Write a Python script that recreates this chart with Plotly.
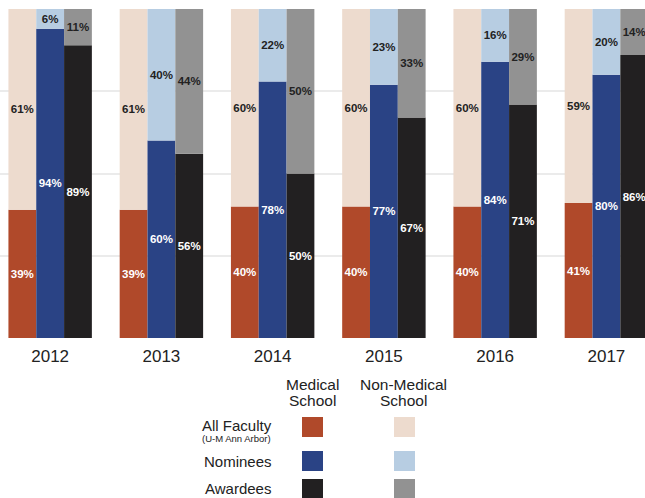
import plotly.graph_objects as go

years = ["2012", "2013", "2014", "2015", "2016", "2017"]
groups = ["All Faculty", "Nominees", "Awardees"]
medical = {
    "All Faculty": [39, 39, 40, 40, 40, 41],
    "Nominees": [94, 60, 78, 77, 84, 80],
    "Awardees": [89, 56, 50, 67, 71, 86],
}
non_medical = {
    "All Faculty": [61, 61, 60, 60, 60, 59],
    "Nominees": [6, 40, 22, 23, 16, 20],
    "Awardees": [11, 44, 50, 33, 29, 14],
}
med_colors = {"All Faculty": "#B0492A", "Nominees": "#2A4385", "Awardees": "#222021"}
non_colors = {"All Faculty": "#EDDBCE", "Nominees": "#B7CDE2", "Awardees": "#929292"}

W, H = 645, 498
M_T, M_B = 9, 160
PLOT_H = H - M_T - M_B

FONT = "Liberation Sans, Arial, sans-serif"

fig = go.Figure()
for g in groups:
    fig.add_trace(go.Bar(
        x=years, y=medical[g], offsetgroup=g, name=g + " medical",
        marker=dict(color=med_colors[g], line=dict(width=0)),
        texttemplate="%{y}%", textposition="inside", insidetextanchor="middle",
        textangle=0, constraintext="none",
        textfont=dict(family=FONT, size=11.5, color="white", weight="bold"),
        showlegend=False, hoverinfo="skip",
    ))
    fig.add_trace(go.Bar(
        x=years, y=non_medical[g], base=medical[g], offsetgroup=g, name=g + " non-medical",
        marker=dict(color=non_colors[g], line=dict(width=0)),
        texttemplate="%{y}%", textposition="inside", insidetextanchor="middle",
        textangle=0, constraintext="none",
        textfont=dict(family=FONT, size=11.5, color="#222222", weight="bold"),
        showlegend=False, hoverinfo="skip",
    ))

spacing = 111.25
c0 = 50.15
fig.update_layout(
    width=W, height=H,
    margin=dict(l=0, r=0, t=M_T, b=M_B, pad=0),
    barmode="group", bargap=0.25, bargroupgap=0,
    plot_bgcolor="white", paper_bgcolor="white",
    font=dict(family=FONT, color="#222222"),
    xaxis=dict(range=[-c0 / spacing, (W - c0) / spacing], showgrid=False, zeroline=False,
               showline=False, ticks="", tickfont=dict(size=17, color="#222222"),
               ticklabelstandoff=6, fixedrange=True),
    yaxis=dict(range=[0, 100], tickvals=[0, 25, 50, 75, 100], showticklabels=False,
               showgrid=True, gridcolor="#EBEBEB", gridwidth=1.5, zeroline=False,
               showline=False, ticks="", fixedrange=True),
)


def px(x):
    return x / W


def py(y):
    return (H - M_B - y) / PLOT_H


def label(text, x, y, size):
    fig.add_annotation(text=text, x=px(x), y=py(y), xref="paper", yref="paper",
                       xanchor="center", yanchor="middle", showarrow=False,
                       font=dict(family=FONT, size=size, color="#222222"))


label("Medical", 312, 384.5, 15.5)
label("School", 312, 400.5, 15.5)
label("Non-Medical", 403, 384.5, 15.5)
label("School", 403, 400.5, 15.5)

row_labels = ["All Faculty", "Nominees", "Awardees"]
row_y = [(417, 437), (451, 471), (479, 499)]
label("All Faculty", 237, 425, 15)
label("(U-M Ann Arbor)", 236, 438, 9.5)
label("Nominees", 238, 461, 15)
label("Awardees", 238, 488, 15)

for g, (y0, y1) in zip(row_labels, row_y):
    for (x0, x1), col in (((302, 323), med_colors[g]), ((394, 415), non_colors[g])):
        fig.add_shape(type="rect", xref="paper", yref="paper",
                      x0=px(x0), x1=px(x1), y0=py(y1), y1=py(y0),
                      fillcolor=col, line=dict(width=0), layer="above")

fig.write_html("out.html", config={"displayModeBar": False},
               post_script="document.body.style.margin='0';document.body.style.overflow='hidden';")
